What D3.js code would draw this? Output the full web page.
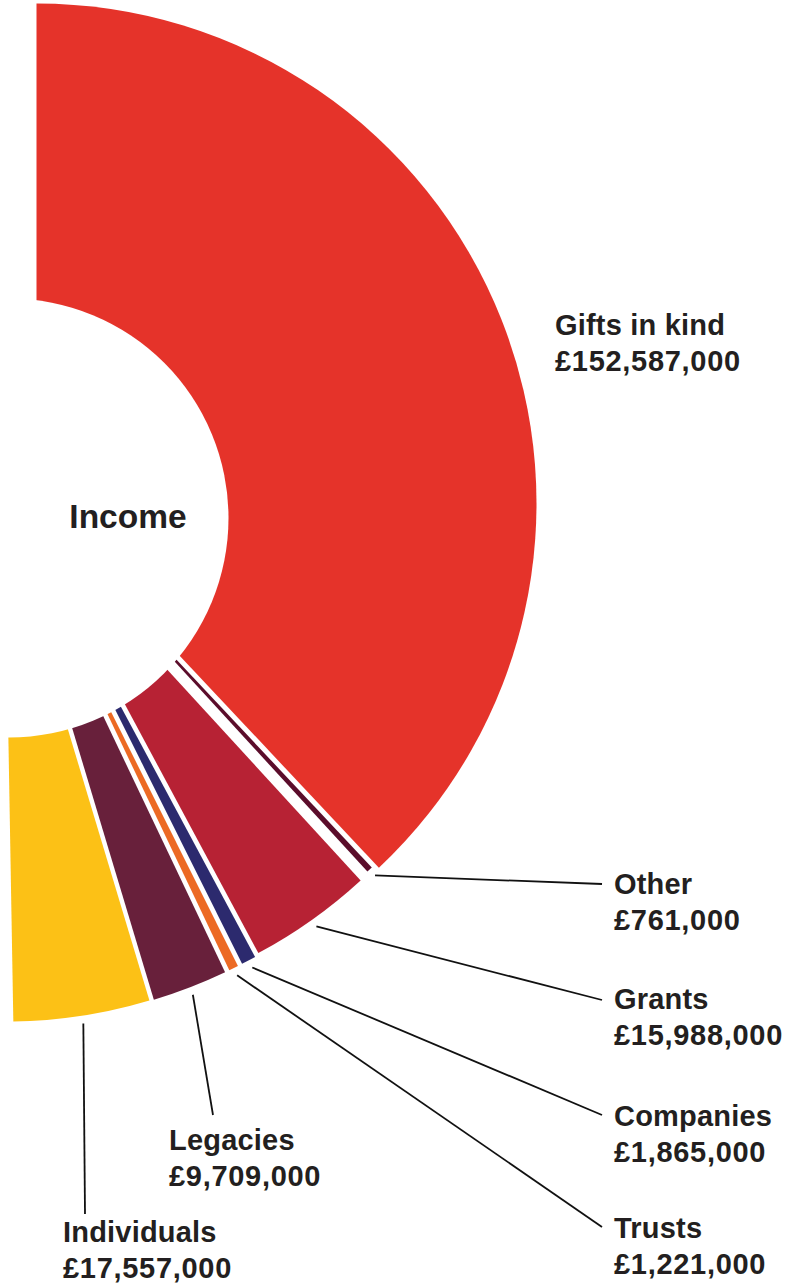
<!DOCTYPE html>
<html>
<head>
<meta charset="utf-8">
<script src="https://cdn.jsdelivr.net/npm/d3@7"></script>
<style>
  html, body { margin: 0; padding: 0; background: #ffffff; }
  svg { display: block; }
  text { font-family: "Liberation Sans", Arial, Helvetica, sans-serif; font-weight: bold; fill: #231f20; }
</style>
</head>
<body>
<svg id="chart" width="787" height="1287"></svg>
<script>
// ---------- data ----------
const categories = ["Gifts in kind", "Other", "Grants", "Companies", "Trusts", "Legacies", "Individuals"];
const values = [152587000, 761000, 15988000, 1865000, 1221000, 9709000, 17557000];
const colors = ["#e5332a", "#5b0d2b", "#b72234", "#2c2a6e", "#ec6a24", "#68203b", "#fcc116"];
const centreLabel = "Income";

// ---------- layout ----------
const W = 787, H = 1287;
const cx = 9, cy = 518;               // common pie centre
const holeRadius = 219.5;
const sliceRadius = 503;
const redShift = [27.5, -14.6], redRadius = 500;     // the big slice is drawn offset
const perpOffset = [0, -25, -14.2, -9.4, -4.7, 0, 4.5]; // sideways shift of the other slices
const labelPos = [[555, 335], [614, 894], [614, 1009], [614, 1126], [614, 1238], [169, 1150], [63, 1242]];
const leaderEnd = [null, [602, 884], [602, 1000], [602, 1115], [602, 1227], [213, 1115], [85, 1214]];
const lineGap = 36;

const svg = d3.select("#chart").attr("viewBox", `0 0 ${W} ${H}`);
const fmt = d3.format(",");

const pie = d3.pie().sort(null).value(d => d)
  .startAngle(0).endAngle(179 * Math.PI / 180);
const arcs = pie(values);

const centres = arcs.map((a, i) => {
  if (i === 0) return { x: cx + redShift[0], y: cy + redShift[1], R: redRadius };
  const mid = (a.startAngle + a.endAngle) / 2;
  return {
    x: cx + perpOffset[i] * Math.cos(mid),
    y: cy + perpOffset[i] * Math.sin(mid),
    R: sliceRadius
  };
});

const gSlices = svg.append("g");
arcs.forEach((a, i) => {
  const c = centres[i];
  const arc = d3.arc().innerRadius(0).outerRadius(c.R);
  gSlices.append("path")
    .attr("transform", `translate(${c.x},${c.y})`)
    .attr("d", arc(a))
    .attr("fill", colors[i]);
});

// hole
svg.append("circle").attr("cx", cx).attr("cy", cy).attr("r", holeRadius).attr("fill", "#ffffff");

svg.append("text")
  .attr("x", 128).attr("y", 528)
  .attr("text-anchor", "middle")
  .attr("font-size", 33.5)
  .text(centreLabel);

// leader lines
const gLines = svg.append("g");
arcs.forEach((a, i) => {
  if (!leaderEnd[i]) return;
  const c = centres[i];
  const r = c.R + 8;
  const p = d3.arc().innerRadius(r).outerRadius(r).centroid(a);
  gLines.append("line")
    .attr("x1", c.x + p[0]).attr("y1", c.y + p[1])
    .attr("x2", leaderEnd[i][0]).attr("y2", leaderEnd[i][1])
    .attr("stroke", "#111111").attr("stroke-width", 1.8);
});

// labels
const gLabels = svg.append("g");
categories.forEach((name, i) => {
  const t = gLabels.append("text")
    .attr("x", labelPos[i][0]).attr("y", labelPos[i][1])
    .attr("font-size", 29);
  t.append("tspan").attr("x", labelPos[i][0]).attr("letter-spacing", 0.2).text(name);
  t.append("tspan").attr("x", labelPos[i][0]).attr("dy", lineGap)
    .attr("letter-spacing", 0.7).text("£" + fmt(values[i]));
});
</script>
</body>
</html>
